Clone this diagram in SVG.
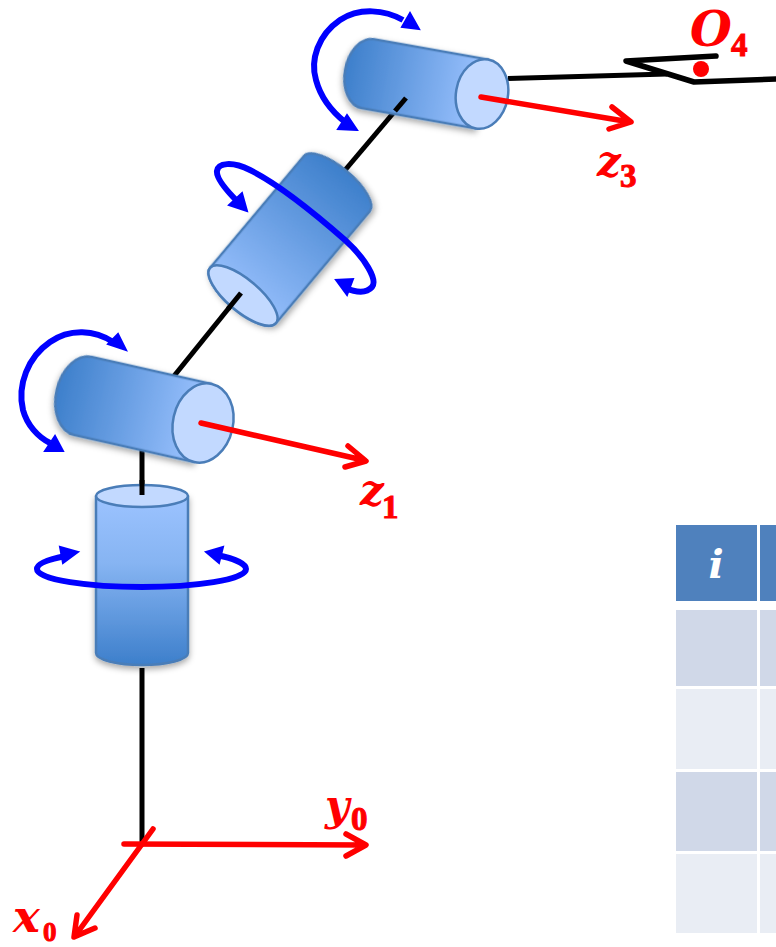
<svg xmlns="http://www.w3.org/2000/svg" width="776" height="947" viewBox="0 0 776 947">
<style>
.body{stroke:#4a7db8;stroke-width:2.5;stroke-linejoin:round}
.end{fill:#c2d9ff;stroke:#4a7db8;stroke-width:2.5}
.link{fill:none;stroke:#000;stroke-width:5;stroke-linecap:butt;stroke-linejoin:round}
.axis{fill:none;stroke:#f00;stroke-width:5.500;stroke-linecap:round;stroke-linejoin:round}
.rot{fill:none;stroke:#00f;stroke-width:6;stroke-linecap:butt}
.head{fill:#00f;stroke:#00f;stroke-width:2;stroke-linejoin:miter}
.lbl{font-family:"DejaVu Serif",serif;font-style:italic;font-weight:bold;fill:#f00;font-size:42px}
.sub{font-family:"Liberation Serif",serif;font-weight:bold;fill:#f00;font-size:33px;stroke:#f00;stroke-width:1}
.h{fill:#4f81bd}.a{fill:#d0d8e8}.b{fill:#e9edf4}
</style>
<defs>
<linearGradient id="gh" x1="0" y1="0" x2="1" y2="0"><stop offset="0" stop-color="#3d7fcb"/><stop offset="1" stop-color="#9cc3ff"/></linearGradient>
<linearGradient id="gv" x1="0" y1="0" x2="0" y2="1"><stop offset="0" stop-color="#9cc3ff"/><stop offset="0.4" stop-color="#86b4f2"/><stop offset="1" stop-color="#3d7fcb"/></linearGradient>
<filter id="sh" x="-20%" y="-20%" width="140%" height="140%"><feDropShadow dx="0" dy="3" stdDeviation="3" flood-color="#000" flood-opacity="0.35"/></filter>
</defs>

<g id="connectors">
<path class="link" d="M142,450V495"/>
<path class="link" d="M142,668V845"/>
<path class="link" d="M174,376L241,293"/>
<path class="link" d="M335,182L406,98"/>
<path class="link" d="M508,78.500L667,74"/>
<path class="link" style="stroke-width:5.500;stroke-linecap:round" d="M716,56L626,61L694,82L776,79"/>
</g>

<g id="joint1">
<path class="body" fill="url(#gv)" filter="url(#sh)" d="M96,496V653A46,12 0 0 0 188,653V496Z"/>
<ellipse class="end" cx="142" cy="496" rx="46" ry="11"/>
<path class="link" d="M142,480V495"/>
<path class="rot" d="M66,556C50,559 37,563 37,569C37,580 90,587 142,587C194,587 246,580 246,569C246,563 232,558 216,555"/>
<polygon class="head" points="78,552 60,547 63,563"/>
<polygon class="head" points="206,552 223,547 219,563"/>
</g>

<g id="joint2">
<g transform="translate(203,423) rotate(12.700)">
<path class="body" fill="url(#gh)" filter="url(#sh)" d="M0,-40H-123A27,40 0 0 0 -123,40H0Z"/>
<ellipse class="end" cx="0" cy="0" rx="30" ry="40"/>
</g>
<path class="rot" d="M113,342C95,330 70,328 50,342C28,357 17,385 23,410C27,425 38,437 50,443"/>
<polygon class="head" points="126,350 118,334 108,344"/>
<polygon class="head" points="63,451 45,451 55,436"/>
</g>

<g id="joint3">
<g transform="translate(243,295.500) rotate(-50)">
<path class="body" fill="url(#gh)" transform="translate(146,0) scale(-1,1)" filter="url(#sh)" d="M0,-43H146A16,43 0 0 1 146,43H0A16,43 0 0 1 0,-43Z"/>
<ellipse class="end" cx="0" cy="0" rx="16" ry="43"/>
</g>
<path class="link" d="M241,293L228,309"/>
<path class="rot" d="M238,202C226,190 216,178 217,171C218,163 232,161 250,170C280,185 320,218 345,240C365,258 378,280 372,287C366,294 355,292 345,288"/>
<polygon class="head" points="247,211 229,205 242,193"/>
<polygon class="head" points="336,280 347,295 353,279"/>
</g>

<g id="joint4">
<g transform="translate(482,94) rotate(10.100)">
<path class="body" fill="url(#gh)" filter="url(#sh)" d="M0,-35H-116A23,35 0 0 0 -116,35H0Z"/>
<ellipse class="end" cx="0" cy="0" rx="26" ry="35"/>
</g>
<path class="link" d="M395,111L406,98"/>
<path class="rot" d="M403,20C385,10 360,7 340,20C318,35 310,60 316,80C320,95 330,110 345,122"/>
<polygon class="head" points="419,29 410,13 402,27"/>
<polygon class="head" points="357,130 338,129 347,115"/>
</g>

<g id="axes">
<path class="axis" d="M481,97L630,122M612,107L631,122L609,129"/>
<path class="axis" d="M201,423L365,460.500M348,446L366,461L345,467"/>
<path class="axis" d="M124,844L365,845M346,834L366,845L346,856"/>
<path class="axis" d="M153,829L75,936M77,915L74,937L95,928"/>
</g>

<g id="origin">
<circle cx="701" cy="69" r="8" fill="#f00"/>
<text class="lbl" x="690" y="46" style="font-size:48px">O</text>
<text class="sub" x="731" y="56">4</text>
</g>
<g id="labels">
<text class="lbl" x="597" y="176">z</text><text class="sub" x="620" y="187">3</text>
<text class="lbl" x="360" y="505">z</text><text class="sub" x="382" y="518">1</text>
<text class="lbl" x="325" y="820">y</text><text class="sub" x="351" y="830">0</text>
<text class="lbl" x="13" y="932" style="font-size:45px">x</text><text class="sub" x="43" y="941" style="font-size:27px">0</text>
</g>

<g id="table">
<rect class="h" x="676" y="525" width="81" height="76"/>
<rect class="h" x="760" y="525" width="16" height="76"/>
<rect class="a" x="676" y="610" width="81" height="76"/>
<rect class="a" x="760" y="610" width="16" height="76"/>
<rect class="b" x="676" y="689" width="81" height="80"/>
<rect class="b" x="760" y="689" width="16" height="80"/>
<rect class="a" x="676" y="772" width="81" height="79"/>
<rect class="a" x="760" y="772" width="16" height="79"/>
<rect class="b" x="676" y="854" width="81" height="79"/>
<rect class="b" x="760" y="854" width="16" height="79"/>
<text x="716" y="578" text-anchor="middle" style="font-family:'DejaVu Serif',serif;font-style:italic;font-weight:bold;font-size:40px;fill:#fff">i</text>
</g>
</svg>
